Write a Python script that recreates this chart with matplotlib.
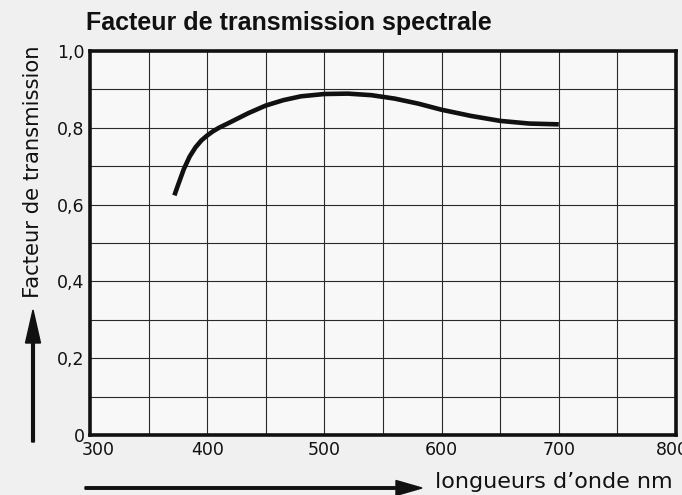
import matplotlib.pyplot as plt
from matplotlib.patches import FancyArrow
from matplotlib.transforms import ScaledTranslation

# Courbe (nm, facteur de transmission)
longueur_onde = [372, 375, 380, 385, 390, 395, 400, 405, 410, 420, 435, 450, 465, 480,
                 500, 520, 540, 560, 580, 600, 625, 650, 675, 700]
transmission = [0.624, 0.650, 0.692, 0.725, 0.749, 0.767, 0.780, 0.791, 0.800, 0.815,
                0.838, 0.858, 0.872, 0.882, 0.888, 0.889, 0.885, 0.876, 0.863, 0.847,
                0.831, 0.818, 0.811, 0.809]

x_ticks = [300, 400, 500, 600, 700, 800]
x_labels = ["300", "400", "500", "600", "700", "800"]
y_ticks = [0, 0.2, 0.4, 0.6, 0.8, 1.0]
y_labels = ["0", "0,2", "0,4", "0,6", "0,8", "1,0"]

fond = '#f0f0f0'
encre = '#111111'
fig = plt.figure(figsize=(6.82, 4.95), dpi=100, facecolor=fond)
ax = fig.add_axes([90 / 682, 60 / 495, 586 / 682, 384 / 495], facecolor='#f8f8f8')

# grille fine tous les 50 nm et 0,1
for x in range(350, 800, 50):
    ax.axvline(x, color='#2a2a2a', lw=0.8, zorder=1)
for i in range(1, 10):
    ax.axhline(i / 10, color='#2a2a2a', lw=0.8, zorder=1)

ax.plot(longueur_onde, transmission, color=encre, lw=3.3,
        solid_capstyle='butt', solid_joinstyle='round', zorder=3)

ax.set_xlim(300, 800)
ax.set_ylim(0, 1.0)
ax.set_xticks(x_ticks)
ax.set_xticklabels(x_labels, fontsize=12.5)
ax.set_yticks(y_ticks)
ax.set_yticklabels(y_labels, fontsize=12.5)
ax.tick_params(length=0, pad=4, colors=encre)
# le "300" est decale a droite pour ne pas toucher le "0", le "800" un peu a gauche
labs = ax.xaxis.get_ticklabels()
labs[0].set_transform(labs[0].get_transform() + ScaledTranslation(8 / 100, 0, fig.dpi_scale_trans))
labs[-1].set_transform(labs[-1].get_transform() + ScaledTranslation(-4 / 100, 0, fig.dpi_scale_trans))
for s in ax.spines.values():
    s.set_linewidth(2.6)
    s.set_color(encre)

fig.text(86 / 682, 1 - 23 / 495, "Facteur de transmission spectrale",
         fontsize=18, fontweight='bold', family=['Liberation Sans Narrow', 'Liberation Sans'],
         va='center', ha='left', color=encre)

fig.text(33 / 682, 1 - 172 / 495, "Facteur de transmission", rotation=90,
         fontsize=15.2, va='center', ha='center', color=encre)
fig.text(435 / 682, 1 - 482 / 495, "longueurs d\u2019onde nm",
         fontsize=16, va='center', ha='left', color=encre)

# fleches
fig.patches.append(FancyArrow(
    33 / 682, 1 - 442 / 495, 0, 132 / 495, width=0.004, head_width=15 / 682,
    head_length=33 / 495, length_includes_head=True, color=encre,
    transform=fig.transFigure, figure=fig))
fig.patches.append(FancyArrow(
    85 / 682, 1 - 488 / 495, 337 / 682, 0, width=0.005, head_width=15 / 495,
    head_length=26 / 682, length_includes_head=True, color=encre,
    transform=fig.transFigure, figure=fig))

fig.savefig('out.png', dpi=100, facecolor=fond)
